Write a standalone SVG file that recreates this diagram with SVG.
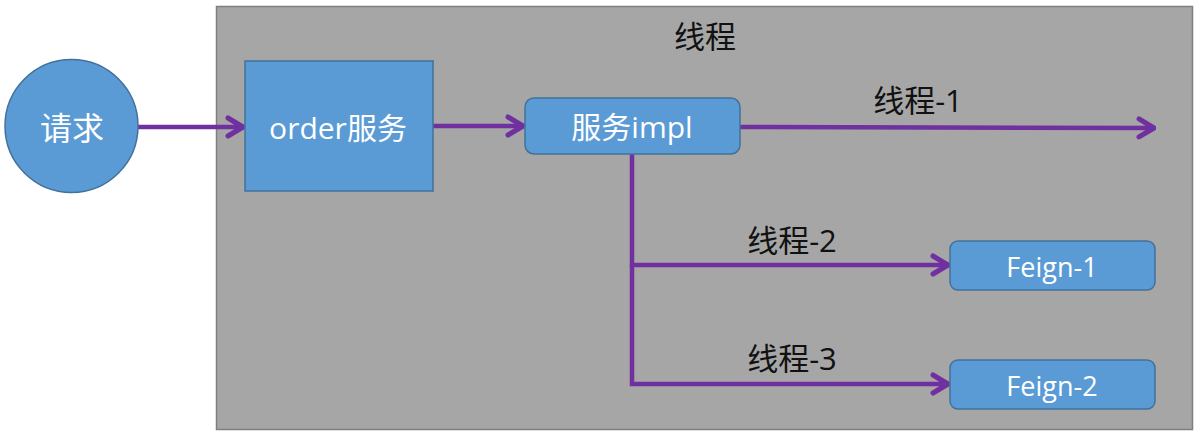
<svg xmlns="http://www.w3.org/2000/svg" width="1200" height="437" viewBox="0 0 1200 437">
<style>
.blue{fill:#5b9bd5;stroke:#41719c;stroke-width:1.5}
.wt{fill:#ffffff;font-family:"Open Sans","Noto Sans CJK SC",sans-serif;text-anchor:middle;dominant-baseline:central}
.bt{fill:#111111;font-family:"Open Sans","Noto Sans CJK SC",sans-serif;font-size:31px;text-anchor:middle;dominant-baseline:central}
.ln{fill:none;stroke:#7030a0;stroke-width:4.5}
</style>
<defs>
<marker id="arr" viewBox="0 0 20 24" refX="19" refY="12" markerWidth="20" markerHeight="24" markerUnits="userSpaceOnUse" orient="auto">
<path d="M3,3 L18,12 L3,21" fill="none" stroke="#7030a0" stroke-width="5" stroke-linecap="round" stroke-linejoin="round"/>
</marker>
</defs>
<rect width="1200" height="437" fill="#ffffff"/>
<g id="container">
<rect x="216.5" y="6.5" width="976" height="423" fill="#a6a6a6" stroke="#7f7f7f" stroke-width="1.5"/>
<text class="bt" x="705" y="36" font-size="33">线程</text>
</g>
<g id="connectors">
<line class="ln" x1="138" y1="127" x2="244" y2="127" marker-end="url(#arr)"/>
<line class="ln" x1="433" y1="126" x2="524" y2="126" marker-end="url(#arr)"/>
<line class="ln" x1="740" y1="127" x2="1155" y2="128" marker-end="url(#arr)"/>
<polyline class="ln" points="632,154 632,265 949,265" marker-end="url(#arr)"/>
<polyline class="ln" points="632,265 632,384 949,384" marker-end="url(#arr)"/>
<text class="bt" x="918" y="100">线程-1</text>
<text class="bt" x="792" y="240">线程-2</text>
<text class="bt" x="792" y="358">线程-3</text>
</g>
<g id="request">
<circle class="blue" cx="71.5" cy="126" r="66.5"/>
<text class="wt" x="72" y="127" font-size="32">请求</text>
</g>
<g id="order">
<rect class="blue" x="245" y="61" width="188" height="130"/>
<text class="wt" x="338" y="127" font-size="30">order服务</text>
</g>
<g id="impl">
<rect class="blue" x="525" y="98" width="215" height="56" rx="9"/>
<text class="wt" x="632" y="126" font-size="30">服务impl</text>
</g>
<g id="feign1">
<rect class="blue" x="950" y="241" width="205" height="49" rx="8"/>
<text class="wt" x="1052" y="266" font-size="27">Feign-1</text>
</g>
<g id="feign2">
<rect class="blue" x="950" y="360" width="205" height="49" rx="8"/>
<text class="wt" x="1052" y="385" font-size="27">Feign-2</text>
</g>
</svg>
